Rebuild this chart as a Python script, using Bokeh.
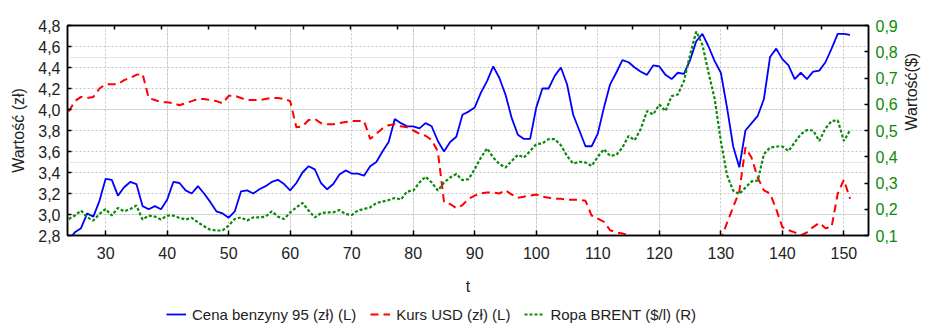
import math

from bokeh.plotting import figure
from bokeh.layouts import column
from bokeh.models import (LinearAxis, Range1d, Legend, LegendItem, FixedTicker,
                          CustomJSTickFormatter, Grid)
from bokeh.embed import file_html
from bokeh.resources import INLINE

# week index
t = list(range(24, 152))

# petrol price 95 (zł) - left axis
benzyna = [
    2.76, 2.83, 2.87, 3.01, 2.98, 3.13, 3.34, 3.33, 3.18, 3.26,
    3.31, 3.29, 3.08, 3.05, 3.08, 3.05, 3.14, 3.31, 3.30, 3.23,
    3.20, 3.27, 3.20, 3.12, 3.03, 3.01, 2.97, 3.03, 3.22, 3.23,
    3.20, 3.24, 3.27, 3.31, 3.33, 3.29, 3.23, 3.30, 3.40, 3.46,
    3.43, 3.30, 3.24, 3.29, 3.38, 3.42, 3.39, 3.39, 3.37, 3.46,
    3.50, 3.60, 3.69, 3.91, 3.87, 3.84, 3.84, 3.82, 3.87, 3.84,
    3.70, 3.60, 3.69, 3.74, 3.95, 3.98, 4.02, 4.16, 4.27, 4.41,
    4.30, 4.14, 3.92, 3.76, 3.72, 3.72, 4.02, 4.20, 4.20, 4.32,
    4.40, 4.24, 3.95, 3.80, 3.65, 3.65, 3.77, 4.02, 4.24, 4.35,
    4.47, 4.45, 4.40, 4.36, 4.33, 4.42, 4.41, 4.33, 4.29, 4.35,
    4.34, 4.47, 4.65, 4.72, 4.60, 4.46, 4.35, 4.02, 3.65, 3.45,
    3.80, 3.87, 3.94, 4.10, 4.50, 4.58, 4.48, 4.42, 4.29, 4.35,
    4.29, 4.36, 4.37, 4.45, 4.58, 4.72, 4.72, 4.71,
]

# USD exchange rate (zł) - left axis
kurs_usd = [
    3.98, 4.08, 4.12, 4.11, 4.12, 4.20, 4.24, 4.24, 4.24, 4.28,
    4.30, 4.33, 4.34, 4.11, 4.09, 4.07, 4.07, 4.06, 4.04, 4.06,
    4.08, 4.10, 4.10, 4.09, 4.08, 4.06, 4.13, 4.13, 4.11, 4.09,
    4.09, 4.09, 4.10, 4.11, 4.11, 4.10, 4.08, 3.83, 3.84, 3.90,
    3.91, 3.87, 3.86, 3.86, 3.87, 3.88, 3.89, 3.89, 3.89, 3.72,
    3.77, 3.82, 3.85, 3.86, 3.84, 3.83, 3.80, 3.77, 3.75, 3.71,
    3.60, 3.12, 3.10, 3.06, 3.09, 3.15, 3.18, 3.20, 3.21, 3.21,
    3.20, 3.23, 3.19, 3.16, 3.17, 3.18, 3.19, 3.17, 3.16, 3.15,
    3.15, 3.14, 3.14, 3.14, 3.13, 2.99, 2.96, 2.93, 2.85, 2.83,
    2.82, 2.80, 2.77, 2.75, 2.73, 2.72, 2.71, 2.70, 2.70, 2.69,
    2.69, 2.70, 2.71, 2.72, 2.74, 2.75, 2.76, 2.92, 3.07, 3.22,
    3.64, 3.54, 3.35, 3.23, 3.20, 3.05, 2.88, 2.85, 2.83, 2.80,
    2.83, 2.88, 2.92, 2.87, 2.88, 3.20, 3.33, 3.15,
]

# BRENT crude ($/l) - right axis
ropa_brent = [
    0.163, 0.176, 0.195, 0.169, 0.157, 0.182, 0.201, 0.176, 0.205, 0.192,
    0.201, 0.214, 0.161, 0.176, 0.172, 0.161, 0.176, 0.176, 0.167, 0.161,
    0.167, 0.150, 0.135, 0.122, 0.119, 0.119, 0.138, 0.163, 0.169, 0.157,
    0.169, 0.169, 0.172, 0.192, 0.172, 0.163, 0.188, 0.207, 0.224, 0.195,
    0.169, 0.185, 0.188, 0.188, 0.197, 0.182, 0.178, 0.195, 0.201, 0.207,
    0.224, 0.229, 0.235, 0.243, 0.237, 0.268, 0.271, 0.302, 0.324, 0.302,
    0.271, 0.302, 0.321, 0.334, 0.311, 0.315, 0.353, 0.397, 0.432, 0.397,
    0.372, 0.359, 0.384, 0.407, 0.397, 0.422, 0.448, 0.451, 0.467, 0.467,
    0.444, 0.403, 0.374, 0.381, 0.378, 0.365, 0.400, 0.429, 0.403, 0.407,
    0.435, 0.479, 0.463, 0.507, 0.574, 0.561, 0.599, 0.574, 0.631, 0.637,
    0.688, 0.789, 0.877, 0.827, 0.720, 0.620, 0.460, 0.330, 0.271, 0.258,
    0.283, 0.306, 0.309, 0.410, 0.435, 0.439, 0.439, 0.422, 0.454, 0.486,
    0.502, 0.500, 0.460, 0.508, 0.536, 0.539, 0.460, 0.501,
]

x_ticks = [30, 40, 50, 60, 70, 80, 90, 100, 110, 120, 130, 140, 150]
left_ticks = [2.8, 3.0, 3.2, 3.4, 3.6, 3.8, 4.0, 4.2, 4.4, 4.6, 4.8]
right_ticks = [0.1, 0.2, 0.3, 0.4, 0.5, 0.6, 0.7, 0.8, 0.9]
top_ticks = list(range(1, 17))

series_labels = ["Cena benzyny 95 (zł) (L)", "Kurs USD (zł) (L)", "Ropa BRENT ($/l) (R)"]

FONT = "Liberation Sans"
BLUE = "#0000FF"
RED = "#FF0000"
GREEN = "#0A8A0A"
BLUE_STYLE = dict(line_color=BLUE, line_width=1.8)
RED_STYLE = dict(line_color=RED, line_width=2, line_dash="8 5")
GREEN_STYLE = dict(line_color=GREEN, line_width=2.2, line_dash="3 2")

comma_fmt = CustomJSTickFormatter(code="return tick.toFixed(1).replace('.', ',');")

p = figure(width=931, height=297, output_backend="svg", toolbar_location=None,
           x_range=Range1d(23.8, 154.0), y_range=Range1d(2.8, 4.8),
           x_axis_location=None, y_axis_location=None,
           min_border_left=67, min_border_right=60, min_border_top=25,
           min_border_bottom=62, background_fill_color="white",
           border_fill_color="white")
p.outline_line_color = "black"
p.outline_line_width = 1.5
p.extra_y_ranges = {"right": Range1d(0.1, 0.9)}
p.extra_x_ranges = {"top": Range1d(0, 17)}


def style_axis(ax):
    ax.major_label_text_font = FONT
    ax.major_label_text_font_size = "16px"
    ax.major_label_text_color = "#222222"
    ax.axis_label_text_font = FONT
    ax.axis_label_text_font_size = "16px"
    ax.axis_label_text_font_style = "normal"
    ax.axis_label_text_color = "#222222"
    ax.axis_line_color = "black"
    ax.axis_line_width = 1.5
    ax.major_tick_line_color = "black"
    ax.major_tick_line_width = 1.5
    ax.major_tick_in = 4
    ax.major_tick_out = 0
    ax.minor_tick_line_color = None


bottom = LinearAxis(ticker=FixedTicker(ticks=x_ticks), axis_label="t")
style_axis(bottom)
bottom.major_tick_in = 5
bottom.major_label_standoff = 11
bottom.axis_label_standoff = 16
p.add_layout(bottom, "below")

# unlabelled tick marks along the top edge
top = LinearAxis(x_range_name="top", ticker=FixedTicker(ticks=top_ticks),
                 major_label_overrides={k: "" for k in top_ticks})
style_axis(top)
top.major_label_standoff = 0
p.add_layout(top, "above")

left = LinearAxis(ticker=FixedTicker(ticks=left_ticks), formatter=comma_fmt,
                  axis_label="Wartość (zł)")
style_axis(left)
left.major_label_standoff = 7
left.axis_label_standoff = 8
p.add_layout(left, "left")

right = LinearAxis(y_range_name="right", ticker=FixedTicker(ticks=right_ticks),
                   formatter=comma_fmt, axis_label="Wartość($)")
style_axis(right)
right.major_label_text_color = GREEN
right.major_label_standoff = 7
right.axis_label_standoff = 11
right.axis_label_orientation = math.pi / 2
p.add_layout(right, "right")

for dim, tk in ((0, bottom.ticker), (1, left.ticker)):
    g = Grid(dimension=dim, ticker=tk, grid_line_color="#C4C4C4",
             grid_line_dash="2 2", grid_line_width=1)
    p.add_layout(g)

p.line(t, benzyna, **BLUE_STYLE)
p.line(t, kurs_usd, **RED_STYLE)
p.line(t, ropa_brent, y_range_name="right", **GREEN_STYLE)

# legend strip underneath the chart; its key lines carry the same series
# but fall outside this strip's (0..1) view, so only the legend shows
leg = figure(width=931, height=28, output_backend="svg", toolbar_location=None,
             x_range=Range1d(0, 1), y_range=Range1d(0, 1),
             x_axis_location=None, y_axis_location=None,
             min_border=0, outline_line_color=None,
             background_fill_color="white", border_fill_color="white")
leg.grid.visible = False
k_blue = leg.line(t, benzyna, **BLUE_STYLE)
k_red = leg.line(t, kurs_usd, **RED_STYLE)
k_green = leg.line(t, ropa_brent, **GREEN_STYLE)

legend = Legend(items=[LegendItem(label=series_labels[0], renderers=[k_blue]),
                       LegendItem(label=series_labels[1], renderers=[k_red]),
                       LegendItem(label=series_labels[2], renderers=[k_green])],
                orientation="horizontal", location=(99, 2),
                border_line_color=None, background_fill_alpha=0,
                label_text_font=FONT, label_text_font_size="15px",
                label_text_color="#222222",
                glyph_width=20, glyph_height=14, label_height=18,
                label_standoff=6, spacing=14, padding=2, margin=0)
leg.add_layout(legend, "center")

page = column(p, leg, spacing=0)
open("out.html", "w").write(file_html(page, INLINE))
